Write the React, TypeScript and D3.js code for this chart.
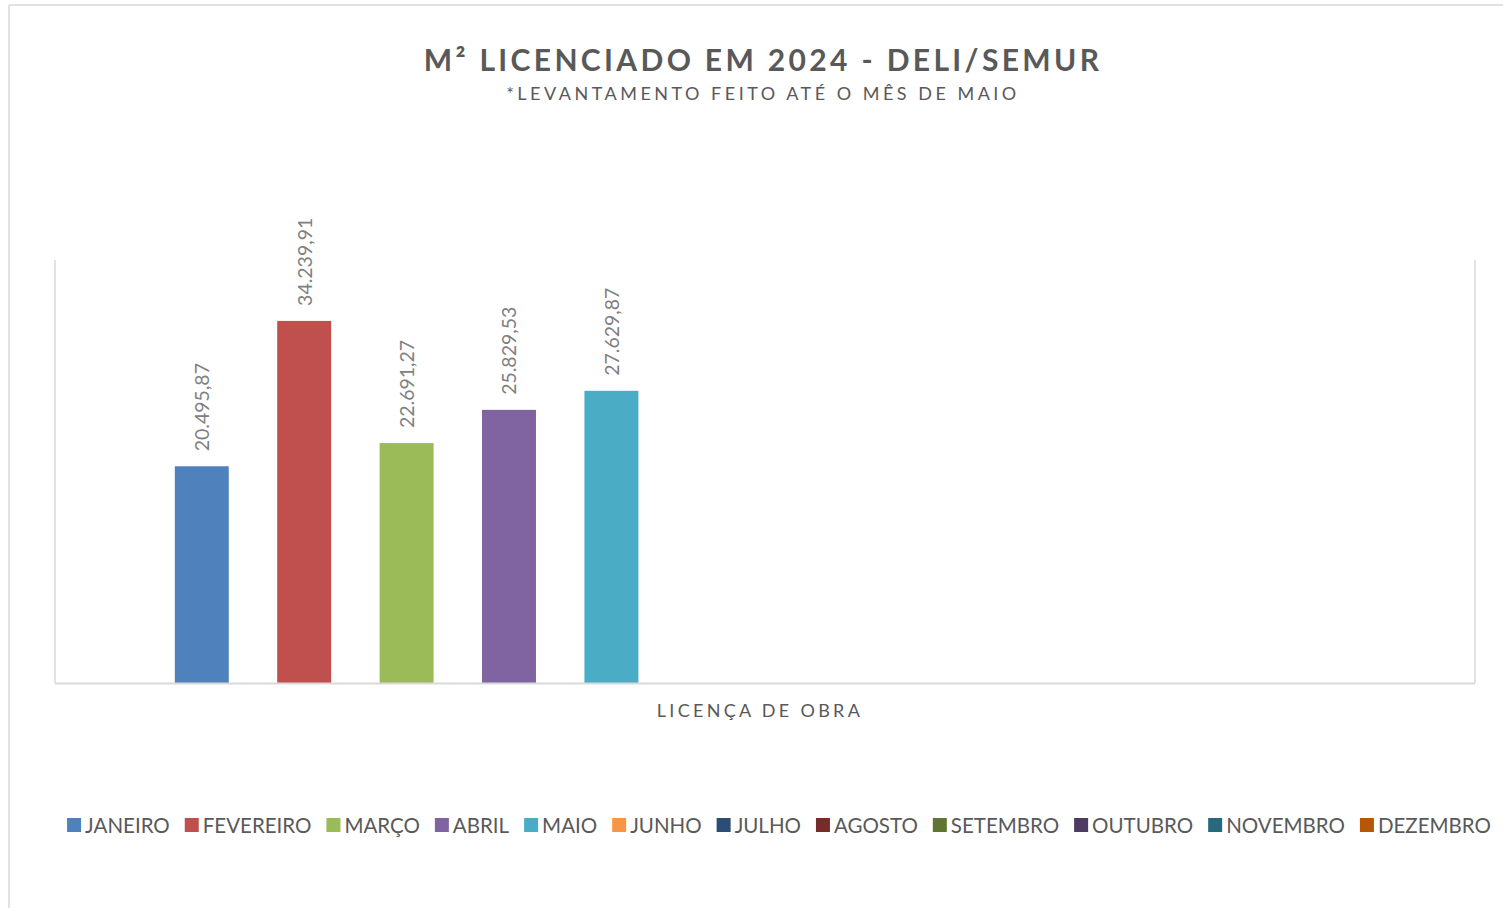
import React from "react";
import * as d3 from "d3";

const months = ["JANEIRO","FEVEREIRO","MARÇO","ABRIL","MAIO","JUNHO","JULHO","AGOSTO","SETEMBRO","OUTUBRO","NOVEMBRO","DEZEMBRO"];
const values: (number | null)[] = [20495.87, 34239.91, 22691.27, 25829.53, 27629.87, null, null, null, null, null, null, null];
const colors = ["#4F81BD","#C0504D","#9BBB59","#8064A2","#4BACC6","#F79646","#2C4D75","#772C2A","#5F7530","#4D3B62","#276A7C","#B65708"];
const title = "M² LICENCIADO EM 2024 - DELI/SEMUR";
const subtitle = "*LEVANTAMENTO FEITO ATÉ O MÊS DE MAIO";
const categoryLabel = "LICENÇA DE OBRA";
const yDomain = [0, 40000];

const W = 1503, H = 908;
const FONT = "Lato, 'Open Sans', sans-serif";

const fmt = (v: number) => {
  const [i, d] = v.toFixed(2).split(".");
  return i.replace(/\B(?=(\d{3})+(?!\d))/g, ".") + "," + d;
};

function measure(text: string, size: number, family: string, spacing = 0) {
  const c = document.createElement("canvas").getContext("2d")!;
  c.font = `${size}px ${family}`;
  return c.measureText(text).width + spacing * text.length;
}

export default function App() {
  const plot = { left: 55, right: 1475, top: 260, bottom: 683 };
  const x = d3.scaleBand<string>().domain(months).range([plot.left, plot.right]).paddingInner(0.473).paddingOuter(1.17);
  const y = d3.scaleLinear().domain(yDomain).range([plot.bottom, plot.top]);

  const legendSize = 20.5;
  const sq = 14, sqGap = 4, itemGap = 15;
  const widths = months.map(m => sq + sqGap + measure(m, legendSize, FONT));
  const total = d3.sum(widths) + itemGap * (months.length - 1);
  const lStart = Math.max(14, Math.min(779 - total / 2, W - 8 - total));
  let lx = lStart;
  const legendItems = months.map((m, i) => {
    const item = { m, i, x: lx };
    lx += widths[i] + itemGap;
    return item;
  });
  const ly = 825;

  return (
    <svg width={W} height={H} style={{ position: "absolute", left: 0, top: 0, fontFamily: FONT }}>
      <rect x={0} y={0} width={W} height={H} fill="#fff" />
      <line x1={9} y1={5} x2={9} y2={H} stroke="#d9d9d9" strokeWidth={1.5} />
      <line x1={9} y1={5} x2={W} y2={5} stroke="#d9d9d9" strokeWidth={1.5} />
      <text x={763} y={71} textAnchor="middle" fontSize={30} fontWeight={700} fill="#595959" letterSpacing={3.35}>{title}</text>
      <text x={763} y={100} textAnchor="middle" fontSize={18} fill="#595959" letterSpacing={3.5}>{subtitle}</text>

      {months.map((m, i) => {
        const v = values[i];
        if (v == null) return null;
        const bx = x(m)!;
        const cx = bx + x.bandwidth() / 2;
        const ty = y(v) - 15;
        return (
          <g key={m}>
            <rect x={bx} y={y(v)} width={x.bandwidth()} height={plot.bottom - y(v)} fill={colors[i]} />
            <text transform={`translate(${cx},${ty}) rotate(-90)`} fontSize={19.5} fill="#808080" dominantBaseline="central">{fmt(v)}</text>
          </g>
        );
      })}

      <line x1={plot.left} y1={plot.top} x2={plot.left} y2={plot.bottom} stroke="#d9d9d9" strokeWidth={1.5} />
      <line x1={plot.right} y1={plot.top} x2={plot.right} y2={plot.bottom} stroke="#d9d9d9" strokeWidth={1.5} />
      <line x1={plot.left} y1={plot.bottom + 0.5} x2={plot.right} y2={plot.bottom + 0.5} stroke="#d9d9d9" strokeWidth={2} />

      <text x={760} y={717} textAnchor="middle" fontSize={18} fill="#595959" letterSpacing={3.3}>{categoryLabel}</text>

      {legendItems.map(it => (
        <g key={it.m}>
          <rect x={it.x} y={ly - 7} width={sq} height={sq} fill={colors[it.i]} />
          <text x={it.x + sq + sqGap} y={ly} dominantBaseline="central" fontSize={legendSize} fill="#595959">{it.m}</text>
        </g>
      ))}
    </svg>
  );
}
